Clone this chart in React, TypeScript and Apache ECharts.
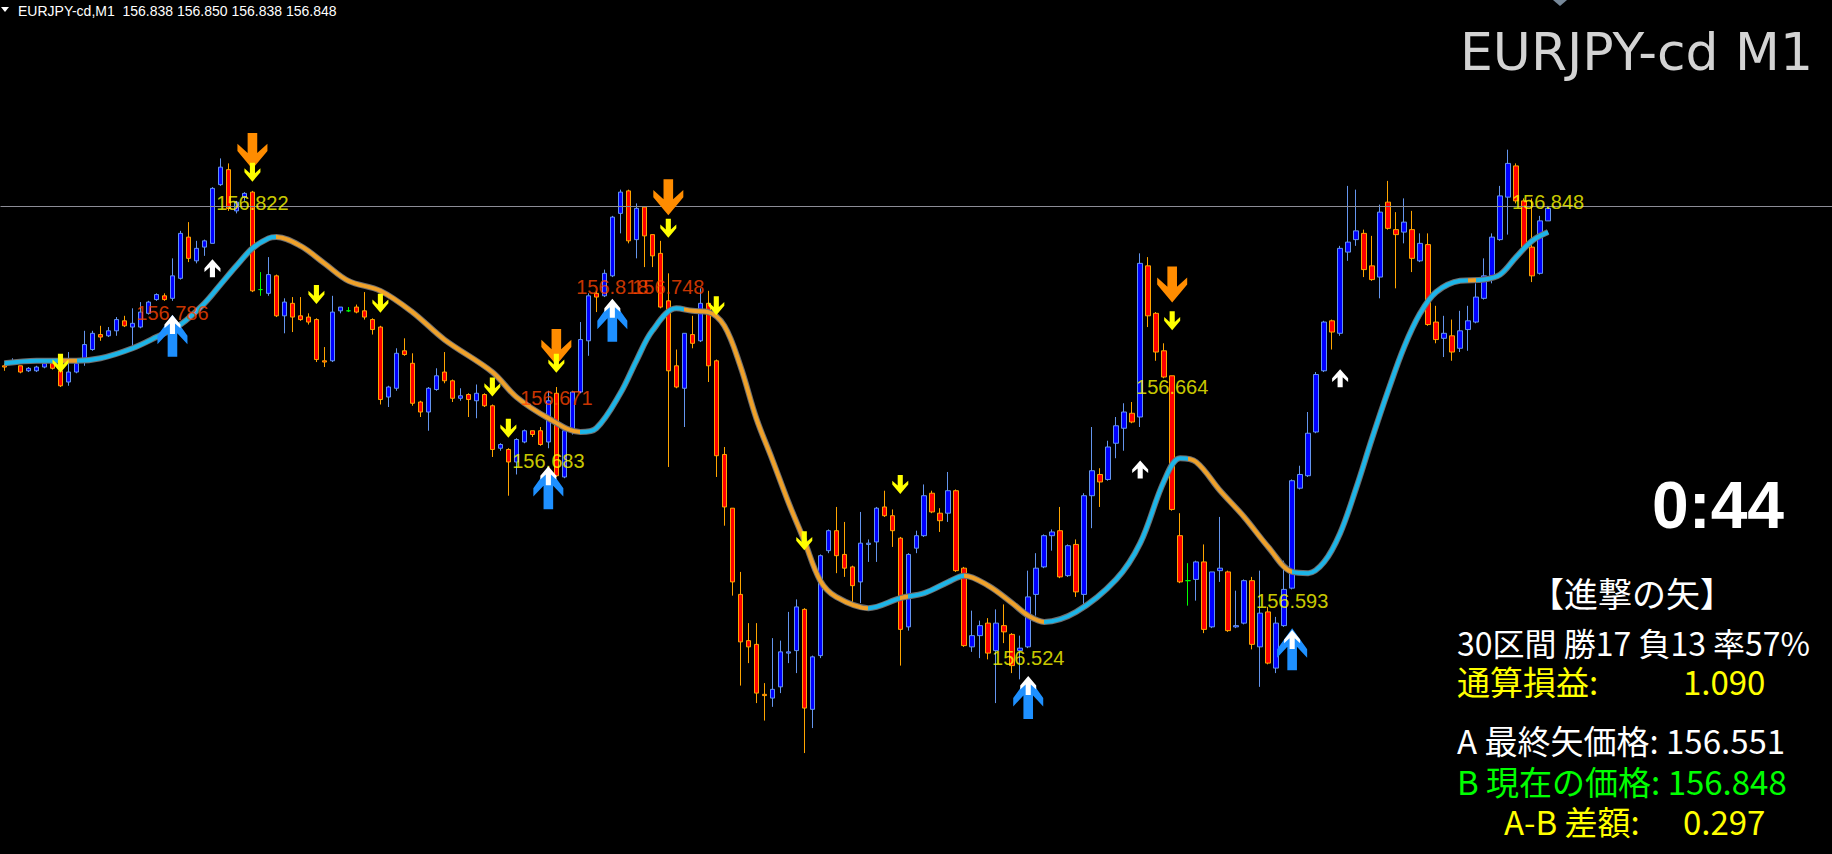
import React, { useEffect, useRef } from "react";
import * as echarts from "echarts";

// ---- Candle data (EURJPY-cd, M1) ----
const opens = [
  156.722, 156.725, 156.722, 156.718, 156.718, 156.721, 156.724, 156.718, 156.709, 156.717,
  156.726, 156.735, 156.747, 156.746, 156.750, 156.758, 156.753, 156.753, 156.764, 156.775,
  156.778, 156.776, 156.792, 156.825, 156.806, 156.817, 156.820, 156.867, 156.879, 156.846,
  156.857, 156.861, 156.783, 156.780, 156.794, 156.762, 156.772, 156.762, 156.761, 156.759,
  156.726, 156.726, 156.766, 156.766, 156.769, 156.766, 156.759, 156.753, 156.697, 156.704,
  156.734, 156.724, 156.693, 156.685, 156.703, 156.717, 156.710, 156.696, 156.699, 156.694,
  156.699, 156.690, 156.656, 156.655, 156.645, 156.661, 156.670, 156.670, 156.661, 156.700,
  156.633, 156.669, 156.701, 156.742, 156.780, 156.778, 156.794, 156.844, 156.862, 156.823,
  156.849, 156.827, 156.812, 156.774, 156.722, 156.704, 156.747, 156.742, 156.772, 156.726,
  156.651, 156.608, 156.539, 156.502, 156.499, 156.459, 156.456, 156.465, 156.492, 156.494,
  156.527, 156.447, 156.490, 156.574, 156.590, 156.571, 156.561, 156.549, 156.579, 156.581,
  156.609, 156.602, 156.584, 156.513, 156.576, 156.586, 156.620, 156.604, 156.604, 156.622,
  156.560, 156.497, 156.506, 156.516, 156.494, 156.514, 156.507, 156.494, 156.497, 156.539,
  156.561, 156.586, 156.590, 156.554, 156.579, 156.539, 156.618, 156.635, 156.631, 156.660,
  156.672, 156.684, 156.681, 156.802, 156.764, 156.734, 156.714, 156.586, 156.550, 156.551,
  156.565, 156.513, 156.558, 156.557, 156.513, 156.516, 156.550, 156.497, 156.525, 156.480,
  156.514, 156.544, 156.624, 156.634, 156.669, 156.718, 156.758, 156.748, 156.813, 156.823,
  156.828, 156.802, 156.793, 156.853, 156.831, 156.829, 156.831, 156.806, 156.819, 156.757,
  156.744, 156.746, 156.736, 156.751, 156.757, 156.776, 156.794, 156.823, 156.857, 156.882,
  156.854, 156.817, 156.796, 156.838,
];
const closes = [
  156.721, 156.726, 156.717, 156.720, 156.721, 156.724, 156.720, 156.706, 156.717, 156.724,
  156.739, 156.748, 156.745, 156.750, 156.759, 156.754, 156.756, 156.765, 156.773, 156.779,
  156.775, 156.794, 156.828, 156.808, 156.816, 156.822, 156.864, 156.881, 156.848, 156.853,
  156.860, 156.782, 156.783, 156.795, 156.762, 156.773, 156.761, 156.759, 156.757, 156.727,
  156.725, 156.765, 156.769, 156.766, 156.765, 156.761, 156.751, 156.695, 156.705, 156.732,
  156.731, 156.692, 156.685, 156.704, 156.714, 156.710, 156.696, 156.698, 156.695, 156.700,
  156.690, 156.655, 156.659, 156.645, 156.663, 156.670, 156.667, 156.659, 156.694, 156.634,
  156.670, 156.701, 156.743, 156.778, 156.777, 156.796, 156.841, 156.861, 156.822, 156.848,
  156.826, 156.810, 156.769, 156.718, 156.705, 156.748, 156.740, 156.772, 156.722, 156.650,
  156.609, 156.549, 156.501, 156.497, 156.460, 156.458, 156.463, 156.493, 156.493, 156.529,
  156.448, 156.489, 156.570, 156.590, 156.570, 156.560, 156.546, 156.580, 156.580, 156.608,
  156.602, 156.590, 156.511, 156.571, 156.586, 156.618, 156.605, 156.598, 156.622, 156.558,
  156.498, 156.506, 156.514, 156.492, 156.516, 156.509, 156.482, 156.496, 156.537, 156.560,
  156.586, 156.589, 156.553, 156.578, 156.541, 156.618, 156.638, 156.629, 156.657, 156.674,
  156.685, 156.677, 156.804, 156.762, 156.733, 156.713, 156.607, 156.549, 156.550, 156.565,
  156.511, 156.557, 156.560, 156.510, 156.514, 156.550, 156.499, 156.524, 156.484, 156.516,
  156.543, 156.630, 156.635, 156.668, 156.715, 156.757, 156.749, 156.816, 156.821, 156.830,
  156.799, 156.791, 156.845, 156.832, 156.827, 156.837, 156.808, 156.820, 156.755, 156.743,
  156.748, 156.733, 156.750, 156.758, 156.777, 156.794, 156.825, 156.858, 156.884, 156.854,
  156.817, 156.794, 156.838, 156.848,
];
const lows = [
  156.718, 156.724, 156.716, 156.717, 156.717, 156.720, 156.719, 156.705, 156.706, 156.716,
  156.722, 156.734, 156.742, 156.745, 156.746, 156.753, 156.737, 156.752, 156.763, 156.774,
  156.774, 156.774, 156.791, 156.805, 156.804, 156.810, 156.820, 156.866, 156.846, 156.844,
  156.854, 156.781, 156.778, 156.778, 156.761, 156.748, 156.749, 156.758, 156.755, 156.725,
  156.721, 156.725, 156.764, 156.765, 156.764, 156.759, 156.747, 156.691, 156.689, 156.702,
  156.730, 156.690, 156.681, 156.670, 156.702, 156.708, 156.693, 156.694, 156.681, 156.680,
  156.689, 156.649, 156.654, 156.618, 156.635, 156.660, 156.665, 156.658, 156.656, 156.633,
  156.632, 156.667, 156.700, 156.730, 156.765, 156.777, 156.793, 156.828, 156.820, 156.808,
  156.801, 156.801, 156.768, 156.641, 156.704, 156.673, 156.736, 156.741, 156.709, 156.633,
  156.594, 156.538, 156.466, 156.484, 156.452, 156.438, 156.449, 156.460, 156.484, 156.476,
  156.412, 156.432, 156.488, 156.572, 156.556, 156.553, 156.532, 156.532, 156.565, 156.565,
  156.601, 156.577, 156.482, 156.510, 156.572, 156.585, 156.604, 156.589, 156.597, 156.557,
  156.497, 156.493, 156.488, 156.487, 156.452, 156.500, 156.476, 156.471, 156.496, 156.522,
  156.560, 156.574, 156.552, 156.553, 156.537, 156.529, 156.592, 156.609, 156.630, 156.648,
  156.654, 156.676, 156.673, 156.753, 156.726, 156.712, 156.606, 156.548, 156.530, 156.534,
  156.508, 156.512, 156.549, 156.509, 156.512, 156.515, 156.495, 156.465, 156.483, 156.476,
  156.513, 156.543, 156.623, 156.633, 156.668, 156.717, 156.735, 156.746, 156.806, 156.818,
  156.793, 156.790, 156.776, 156.831, 156.784, 156.820, 156.797, 156.805, 156.754, 156.740,
  156.729, 156.726, 156.733, 156.734, 156.756, 156.775, 156.788, 156.822, 156.827, 156.852,
  156.816, 156.789, 156.795, 156.838,
];
const highs = [
  156.724, 156.728, 156.722, 156.721, 156.722, 156.726, 156.726, 156.723, 156.733, 156.726,
  156.750, 156.750, 156.754, 156.753, 156.761, 156.762, 156.768, 156.773, 156.774, 156.780,
  156.780, 156.808, 156.830, 156.837, 156.822, 156.823, 156.865, 156.888, 156.884, 156.854,
  156.861, 156.862, 156.797, 156.809, 156.795, 156.776, 156.777, 156.777, 156.764, 156.760,
  156.737, 156.778, 156.769, 156.769, 156.771, 156.781, 156.760, 156.754, 156.706, 156.736,
  156.744, 156.732, 156.694, 156.705, 156.720, 156.733, 156.711, 156.704, 156.700, 156.707,
  156.700, 156.691, 156.660, 156.656, 156.664, 156.671, 156.670, 156.673, 156.702, 156.705,
  156.672, 156.702, 156.757, 156.780, 156.782, 156.799, 156.842, 156.863, 156.863, 156.852,
  156.849, 156.827, 156.822, 156.796, 156.735, 156.748, 156.762, 156.784, 156.782, 156.727,
  156.657, 156.608, 156.557, 156.516, 156.516, 156.468, 156.504, 156.502, 156.525, 156.535,
  156.528, 156.490, 156.571, 156.591, 156.609, 156.597, 156.562, 156.605, 156.583, 156.609,
  156.622, 156.607, 156.585, 156.572, 156.590, 156.627, 156.622, 156.608, 156.637, 156.623,
  156.561, 156.526, 156.518, 156.520, 156.527, 156.531, 156.508, 156.506, 156.558, 156.572,
  156.587, 156.591, 156.609, 156.579, 156.583, 156.620, 156.673, 156.640, 156.662, 156.681,
  156.692, 156.693, 156.812, 156.809, 156.765, 156.740, 156.714, 156.604, 156.564, 156.566,
  156.579, 156.557, 156.601, 156.558, 156.542, 156.551, 156.553, 156.558, 156.529, 156.521,
  156.566, 156.631, 156.642, 156.685, 156.717, 156.758, 156.759, 156.818, 156.866, 156.863,
  156.831, 156.826, 156.851, 156.870, 156.845, 156.856, 156.846, 156.828, 156.828, 156.770,
  156.762, 156.759, 156.766, 156.770, 156.788, 156.808, 156.828, 156.866, 156.895, 156.884,
  156.856, 156.856, 156.842, 156.850,
];
const totalSlots = 229; // minutes shown across the window (incl. empty right margin)
const bidPrice = 156.848;

// ---- Smoothed trend line (read at these bar indices) ----
const maIdx = [0, 4, 9, 12, 16, 19, 22, 25, 27, 29, 31, 33, 34, 37, 40, 43, 47, 51, 55, 61, 64, 68, 72, 74, 77, 79, 81, 84, 86, 88, 90, 92, 94, 96, 98, 100, 102, 104, 108, 112, 115, 118, 120, 123, 126, 128, 130, 134, 139, 142, 145, 147, 149, 152, 155, 158, 161, 163, 165, 167, 169, 171, 173, 175, 177, 179, 182, 185, 187, 189, 191, 193];
const maVal = [
  156.724, 156.726, 156.726, 156.728, 156.736, 156.745, 156.755, 156.772, 156.787, 156.802,
  156.816, 156.824, 156.825, 156.818, 156.804, 156.790, 156.782, 156.765, 156.743, 156.717,
  156.697, 156.680, 156.669, 156.672, 156.700, 156.726, 156.750, 156.768, 156.766, 156.765,
  156.754, 156.722, 156.680, 156.647, 156.613, 156.582, 156.550, 156.537, 156.528, 156.536,
  156.540, 156.549, 156.554, 156.546, 156.532, 156.522, 156.517, 156.525, 156.551, 156.580,
  156.630, 156.648, 156.645, 156.622, 156.601, 156.577, 156.557, 156.556, 156.565, 156.588,
  156.624, 156.664, 156.702, 156.737, 156.764, 156.781, 156.790, 156.791, 156.795, 156.809,
  156.822, 156.829,
];
// falling stretches of the trend line (drawn orange), [from, to) bar index
const fallingRanges = [[7, 9], [34, 72], [85, 108], [112, 113], [120, 130], [148, 161], [183, 184]];

// ---- Signal arrows ----
const bigUpIdx = [21, 68, 76, 128, 161];
const bigUpPrice = [156.746, 156.624, 156.758, 156.456, 156.495];
const bigUpTopPrice = [156.755, 156.634, 156.768, 156.466, 156.503];
const bigDownIdx = [31, 69, 83, 146];
const bigDownPrice = [156.894, 156.737, 156.857, 156.787];
const smallDownIdx = [7, 31, 39, 47, 61, 63, 69, 83, 89, 100, 112, 146];
const smallDownPrice = [156.724, 156.877, 156.779, 156.772, 156.705, 156.672, 156.724, 156.832, 156.770, 156.582, 156.627, 156.758];
const smallUpIdx = [26, 142, 167];
const smallUpPrice = [156.800, 156.639, 156.712];

// ---- Price tags at signals ----
const tagIdx = [21, 31, 69, 68, 76, 83, 128, 146, 161, 193];
const tagPrice = [156.764, 156.852, 156.696, 156.646, 156.785, 156.785, 156.488, 156.705, 156.534, 156.853];
const tagText = ["156.786", "156.822", "156.671", "156.683", "156.818", "156.748", "156.524", "156.664", "156.593", "156.848"];
const tagRed = [true, false, true, false, true, true, false, false, false, false];

// ---- Panel texts ----
const headerText = "EURJPY-cd,M1  156.838 156.850 156.838 156.848";
const symbolTitle = "EURJPY-cd M1";
const timerText = "0:44";
const panelTitle = "【進撃の矢】";
const statsLine = "30区間 勝17 負13 率57%";
const pnlLabel = "通算損益:";
const pnlValue = "1.090";
const lastArrowLine = "A 最終矢価格: 156.551";
const currentLine = "B 現在の価格: 156.848";
const diffLabel = "A-B 差額:";
const diffValue = "0.297";

const UP_PATH = "path://M50,0 L100,50 L100,70 L66,44 L66,100 L34,100 L34,44 L0,70 L0,50 Z";
const DOWN_PATH = "path://M34,0 L66,0 L66,56 L100,30 L100,50 L50,100 L0,50 L0,30 L34,56 Z";

const JP = '"Noto Sans CJK JP", "Noto Sans", sans-serif';

function txt(x: number, y: number, text: string, fill: string, font: string, align = "left", lh?: number) {
  const style: any = { text, fill, font, align, verticalAlign: "middle", textAlign: align, textVerticalAlign: "middle" };
  if (lh) style.lineHeight = lh;
  return { type: "text", x, y, silent: true, style };
}

export default function App() {
  const ref = useRef<HTMLDivElement>(null);
  useEffect(() => {
    document.body.style.margin = "0";
    document.body.style.background = "#000";
    const chart = echarts.init(ref.current as HTMLDivElement, null, { renderer: "svg" });

    const categories = Array.from({ length: totalSlots }, (_, i) => String(i));
    const candleData = opens.map((o, i) => {
      const v = [o, closes[i], lows[i], highs[i]];
      if (o === closes[i]) {
        return {
          value: v,
          itemStyle: { color: "#00FF00", color0: "#00FF00", borderColor: "#00FF00", borderColor0: "#00FF00", borderColorDoji: "#00FF00" },
        };
      }
      return v;
    });
    const maData = maIdx.map((i, k) => [i, maVal[k]]);
    const pieces: any[] = [];
    let prev = 0;
    fallingRanges.forEach(([a, b]) => {
      if (a > prev) pieces.push({ gte: prev, lt: a, color: "#1CB5E8" });
      pieces.push({ gte: a, lt: b, color: "#EFA12A" });
      prev = b;
    });
    pieces.push({ gte: prev, lte: totalSlots, color: "#1CB5E8" });

    const arrow = (z: number, symbol: string, size: number[], color: string, idx: number[], prices: number[]) => ({
      type: "scatter",
      z,
      silent: true,
      symbol,
      symbolSize: size,
      itemStyle: { color, opacity: 1 },
      data: idx.map((i, k) => [i, prices[k]]),
    });

    const option: any = {
      animation: false,
      backgroundColor: "#000000",
      grid: { left: 0.5, top: 0.5, width: 1832, height: 854, containLabel: false },
      xAxis: { type: "category", data: categories, boundaryGap: true, show: false },
      yAxis: { type: "value", min: 156.3312, max: 157.0144, show: false, splitLine: { show: false } },
      visualMap: { type: "piecewise", show: false, dimension: 0, seriesIndex: 2, pieces },
      series: [
        {
          type: "candlestick",
          data: candleData,
          barWidth: 5,
          z: 2,
          itemStyle: {
            color: "#0000FF",
            color0: "#FF0000",
            borderColor: "#6495ED",
            borderColor0: "#FFA500",
            borderColorDoji: "#00FF00",
            borderWidth: 1,
          },
          markLine: {
            silent: true,
            symbol: "none",
            label: { show: false },
            lineStyle: { color: "#8c8c96", width: 1, type: "solid", opacity: 1 },
            data: [{ yAxis: bidPrice }],
          },
        },
        {
          type: "line",
          data: maData,
          smooth: 0.35,
          symbol: "none",
          silent: true,
          z: 3,
          lineStyle: { width: 6, color: "#6e6e6e" },
        },
        {
          type: "line",
          data: maData,
          smooth: 0.35,
          symbol: "none",
          silent: true,
          z: 4,
          lineStyle: { width: 4 },
        },
        {
          type: "scatter",
          z: 5,
          silent: true,
          symbolSize: 1,
          itemStyle: { color: "rgba(0,0,0,0)" },
          data: tagIdx.map((i, k) => ({
            name: tagText[k],
            value: [i, tagPrice[k]],
            label: { color: tagRed[k] ? "#FF4500" : "#FFFF00" },
          })),
          label: {
            show: true,
            position: "inside",
            formatter: "{b}",
            fontSize: 20,
            fontFamily: '"Liberation Sans", Arial, sans-serif',
          },
        },
        arrow(6, DOWN_PATH, [30, 36], "#FF8C00", bigDownIdx, bigDownPrice),
        arrow(7, DOWN_PATH, [16, 19], "#FFFF00", smallDownIdx, smallDownPrice),
        arrow(8, UP_PATH, [30, 42], "#1E90FF", bigUpIdx, bigUpPrice),
        arrow(9, UP_PATH, [16, 19], "#FFFFFF", bigUpIdx, bigUpTopPrice),
        arrow(9, UP_PATH, [16, 18], "#FFFFFF", smallUpIdx, smallUpPrice),
      ],
      graphic: [
        { type: "polygon", silent: true, shape: { points: [[1, 7], [9, 7], [5, 12]] }, style: { fill: "#FFFFFF" } },
        txt(18, 11, headerText, "#FFFFFF", '14px "Liberation Sans", Arial, sans-serif'),
        { type: "polygon", silent: true, shape: { points: [[1553, 0], [1567, 0], [1560, 6]] }, style: { fill: "#778899" } },
        txt(1813, 52, symbolTitle, "#D3D3D3", '52px "DejaVu Sans", sans-serif', "right"),
        txt(1718, 505, timerText, "#FFFFFF", 'bold 66px "Liberation Sans", Arial, sans-serif', "center"),
        txt(1632, 592, panelTitle, "#FFFFFF", "34px " + JP, "center", 34),
        txt(1457, 642, statsLine, "#FFFFFF", "32px " + JP, "left", 32),
        txt(1457, 681, pnlLabel, "#FFFF00", "33px " + JP, "left", 33),
        txt(1683, 681, pnlValue, "#FFFF00", "33px " + JP, "left", 33),
        txt(1457, 740, lastArrowLine, "#FFFFFF", "33px " + JP, "left", 33),
        txt(1457, 781, currentLine, "#00FF00", "33px " + JP, "left", 33),
        txt(1504, 821, diffLabel, "#FFFF00", "33px " + JP, "left", 33),
        txt(1683, 821, diffValue, "#FFFF00", "33px " + JP, "left", 33),
      ],
    };
    chart.setOption(option);
    return () => chart.dispose();
  }, []);
  return <div ref={ref} style={{ width: 1832, height: 854, background: "#000" }} />;
}
